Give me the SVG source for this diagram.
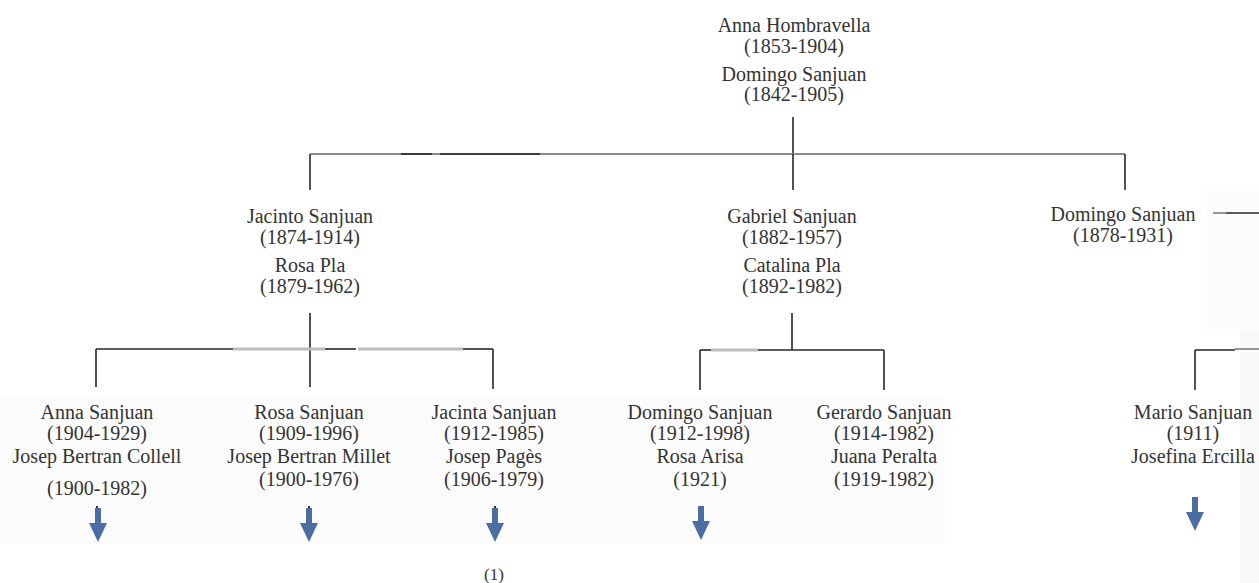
<svg xmlns="http://www.w3.org/2000/svg" width="1259" height="583" viewBox="0 0 1259 583">
<defs>
<style>
text{font-family:"Liberation Serif","Times New Roman",serif;font-size:20px;fill:#333;text-anchor:middle}
.small{font-size:17px}
.ln{stroke:#262626;stroke-width:1.6;fill:none}
.gl{stroke:#8a8a8a;stroke-width:1.8;fill:none}
.lg{stroke:#bdbdbd;stroke-width:3;fill:none}
.tick{stroke:#333;stroke-width:2}
.arr{fill:#4a6ea3}
</style>
<path id="arrow" d="M-3,0 H3 V15 H9 L0,34 L-9,15 H-3 Z"/>
</defs>
<rect width="1259" height="583" fill="#fff"/>
<rect x="0" y="396" width="945" height="148" fill="#fcfcfc"/>
<rect x="1206" y="190" width="53" height="140" fill="#fcfcfa"/>
<rect x="1240" y="330" width="19" height="253" fill="#f9f9f7"/>

<g id="connectors">
<line class="ln" x1="793" y1="117" x2="793" y2="154"/>
<line class="gl" x1="310" y1="154" x2="1125" y2="154"/>
<line class="ln" x1="401" y1="154" x2="432" y2="154"/>
<line class="ln" x1="440" y1="154" x2="540" y2="154"/>
<line class="ln" x1="310" y1="154" x2="310" y2="190"/>
<line class="ln" x1="793" y1="154" x2="793" y2="190"/>
<line class="ln" x1="1125" y1="154" x2="1125" y2="190"/>
<line class="gl" x1="1213" y1="213" x2="1226" y2="213"/>
<line class="ln" x1="1226" y1="213" x2="1259" y2="213"/>

<line class="ln" x1="310" y1="313" x2="310" y2="387"/>
<line class="ln" x1="96" y1="349" x2="233" y2="349"/>
<line class="lg" x1="233" y1="349" x2="325" y2="349"/>
<line class="ln" x1="325" y1="349" x2="356" y2="349"/>
<line class="lg" x1="358" y1="349" x2="463" y2="349"/>
<line class="ln" x1="463" y1="349" x2="493" y2="349"/>
<line class="ln" x1="96" y1="349" x2="96" y2="387"/>
<line class="ln" x1="493" y1="349" x2="493" y2="389"/>

<line class="ln" x1="792" y1="313" x2="792" y2="350"/>
<line class="ln" x1="700" y1="350" x2="711" y2="350"/>
<line class="lg" x1="711" y1="350" x2="758" y2="350"/>
<line class="ln" x1="758" y1="350" x2="884" y2="350"/>
<line class="ln" x1="700" y1="350" x2="700" y2="390"/>
<line class="ln" x1="884" y1="350" x2="884" y2="390"/>

<line class="ln" x1="1195" y1="350" x2="1235" y2="350"/>
<line class="gl" x1="1235" y1="349" x2="1259" y2="349"/>
<line class="ln" x1="1195" y1="350" x2="1195" y2="390"/>
</g>

<g id="n-anna-domingo">
<text x="794" y="32">Anna Hombravella</text>
<text x="794" y="53">(1853-1904)</text>
<text x="794" y="81">Domingo Sanjuan</text>
<text x="794" y="101">(1842-1905)</text>
</g>

<g id="n-jacinto">
<text x="310" y="223">Jacinto Sanjuan</text>
<text x="310" y="244">(1874-1914)</text>
<text x="310" y="272">Rosa Pla</text>
<text x="310" y="293">(1879-1962)</text>
</g>

<g id="n-gabriel">
<text x="792" y="223">Gabriel Sanjuan</text>
<text x="792" y="244">(1882-1957)</text>
<text x="792" y="272">Catalina Pla</text>
<text x="792" y="293">(1892-1982)</text>
</g>

<g id="n-domingo">
<text x="1123" y="221">Domingo Sanjuan</text>
<text x="1123" y="242">(1878-1931)</text>
</g>

<g id="n-anna">
<text x="97" y="419">Anna Sanjuan</text>
<text x="97" y="440">(1904-1929)</text>
<text x="97" y="463">Josep Bertran Collell</text>
<text x="97" y="495">(1900-1982)</text>
<line class="tick" x1="97" y1="506" x2="97" y2="516"/>
<use href="#arrow" class="arr" x="98" y="508"/>
</g>

<g id="n-rosa">
<text x="309" y="419">Rosa Sanjuan</text>
<text x="309" y="440">(1909-1996)</text>
<text x="309" y="463">Josep Bertran Millet</text>
<text x="309" y="486">(1900-1976)</text>
<line class="tick" x1="309" y1="506" x2="309" y2="515"/>
<use href="#arrow" class="arr" x="309" y="508"/>
</g>

<g id="n-jacinta">
<text x="494" y="419">Jacinta Sanjuan</text>
<text x="494" y="440">(1912-1985)</text>
<text x="494" y="463">Josep Pagès</text>
<text x="494" y="486">(1906-1979)</text>
<line class="tick" x1="495" y1="506" x2="495" y2="515"/>
<use href="#arrow" class="arr" x="495" y="508"/>
<text class="small" x="494" y="580">(1)</text>
</g>

<g id="n-domingo2">
<text x="700" y="419">Domingo Sanjuan</text>
<text x="700" y="440">(1912-1998)</text>
<text x="700" y="463">Rosa Arisa</text>
<text x="700" y="486">(1921)</text>
<use href="#arrow" class="arr" x="701" y="506"/>
</g>

<g id="n-gerardo">
<text x="884" y="419">Gerardo Sanjuan</text>
<text x="884" y="440">(1914-1982)</text>
<text x="884" y="463">Juana Peralta</text>
<text x="884" y="486">(1919-1982)</text>
</g>

<g id="n-mario">
<text x="1193" y="419">Mario Sanjuan</text>
<text x="1193" y="440">(1911)</text>
<text x="1193" y="463">Josefina Ercilla</text>
<use href="#arrow" class="arr" x="1195" y="497"/>
</g>
</svg>
